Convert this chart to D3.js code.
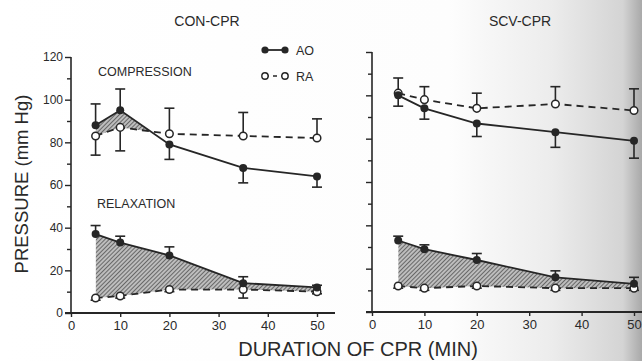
<!DOCTYPE html>
<html>
<head>
<meta charset="utf-8">
<script src="https://cdn.jsdelivr.net/npm/d3@7"></script>
<style>
  body { margin: 0; background: #fff; }
  svg text { font-family: "Liberation Sans", Arial, sans-serif; fill: #2a2a2a; }
</style>
</head>
<body>
<div id="chart"></div>
<script>
// minutes of CPR at which pressures were sampled
const minutes = [5, 10, 20, 35, 50];
const xTicks = [0, 10, 20, 30, 40, 50];
const yTicks = [0, 20, 40, 60, 80, 100, 120];

// CON-CPR
const conAoComp = [88, 95, 79, 68, 64];
const conAoCompErr = [10, 10, 7, 7, 5];
const conRaComp = [83, 87, 84, 83, 82];
const conRaCompErr = [9, 11, 12, 11, 9];
const conAoRelax = [37, 33, 27, 14, 12];
const conAoRelaxErr = [4, 3, 4, 3, 1];
const conRaRelax = [7, 8, 11, 11, 10];
const conRaRelaxErr = [1, 1, 1, 4, 1];

// SCV-CPR
const scvAoComp = [100, 94, 87, 83, 79];
const scvAoCompErr = [5, 5, 6, 7, 8];
const scvRaComp = [101, 98, 94, 96, 93];
const scvRaCompErr = [7, 6, 7, 8, 10];
const scvAoRelax = [33, 29, 24, 16, 13];
const scvAoRelaxErr = [2, 2, 3, 3, 3];
const scvRaRelax = [12, 11, 12, 11, 11];
const scvRaRelaxErr = [1, 1, 1, 1, 1];

const width = 642, height = 361;
const ink = "#262626";

const svg = d3.select("#chart").append("svg")
  .attr("width", width)
  .attr("height", height);

const defs = svg.append("defs");

// scanned page shading toward the right edge
const grad = defs.append("linearGradient").attr("id", "shade")
  .attr("x1", "0%").attr("x2", "100%").attr("y1", "0%").attr("y2", "0%");
grad.append("stop").attr("offset", "0%").attr("stop-color", "#ffffff");
grad.append("stop").attr("offset", "70%").attr("stop-color", "#fdfdfd");
grad.append("stop").attr("offset", "86%").attr("stop-color", "#ececec");
grad.append("stop").attr("offset", "97%").attr("stop-color", "#d4d4d4");
grad.append("stop").attr("offset", "100%").attr("stop-color", "#a9a9a9");
svg.append("rect").attr("width", width).attr("height", height).attr("fill", "url(#shade)");

// hatching
const hatch = defs.append("pattern").attr("id", "hatch")
  .attr("patternUnits", "userSpaceOnUse")
  .attr("width", 3).attr("height", 3)
  .attr("patternTransform", "rotate(45)");
hatch.append("rect").attr("width", 3).attr("height", 3).attr("fill", "#bdbdbd");
hatch.append("line").attr("x1", 0).attr("y1", 0).attr("x2", 0).attr("y2", 3)
  .attr("stroke", "#3a3a3a").attr("stroke-width", 1.3);

const panels = [
  {
    id: "con", title: "CON-CPR", titleX: 207, xRange: [71, 317], yRange: [313, 57],
    axisEnd: 335, yLabels: true,
    pairs: [
      { ao: conAoComp, aoErr: conAoCompErr, ra: conRaComp, raErr: conRaCompErr },
      { ao: conAoRelax, aoErr: conAoRelaxErr, ra: conRaRelax, raErr: conRaRelaxErr }
    ]
  },
  {
    id: "scv", title: "SCV-CPR", titleX: 520, xRange: [372, 634], yRange: [312, 52],
    axisEnd: 650, yLabels: false,
    pairs: [
      { ao: scvAoComp, aoErr: scvAoCompErr, ra: scvRaComp, raErr: scvRaCompErr },
      { ao: scvAoRelax, aoErr: scvAoRelaxErr, ra: scvRaRelax, raErr: scvRaRelaxErr }
    ]
  }
];

panels.forEach(p => {
  const x = d3.scaleLinear().domain([0, 50]).range(p.xRange);
  const y = d3.scaleLinear().domain([0, 120]).range(p.yRange);
  const g = svg.append("g");

  // axes
  const yAxis = g.append("g")
    .attr("transform", `translate(${p.xRange[0]},0)`)
    .call(d3.axisLeft(y).tickValues(d3.range(0, 121, 10)).tickSize(4)
      .tickFormat(d => (p.yLabels && yTicks.includes(d)) ? d : ""));
  yAxis.select(".domain").attr("stroke", ink).attr("stroke-width", 1.6).attr("d", `M0,${p.yRange[1]}V${p.yRange[0]}`);
  yAxis.selectAll(".tick line").attr("stroke", ink).attr("stroke-width", 1.4)
    .attr("x2", d => yTicks.includes(d) ? -6 : -4);
  yAxis.selectAll(".tick text").attr("font-size", 12).attr("x", -8);

  const xAxis = g.append("g")
    .attr("transform", `translate(0,${p.yRange[0]})`)
    .call(d3.axisBottom(x).tickValues(xTicks).tickSize(4));
  xAxis.select(".domain").attr("stroke", ink).attr("stroke-width", 1.8)
    .attr("d", `M${p.xRange[0] - 6},0H${p.axisEnd}`);
  xAxis.selectAll(".tick line").attr("stroke", ink).attr("stroke-width", 1.4);
  xAxis.selectAll(".tick text").attr("font-size", 13).attr("y", 8);

  g.append("text").attr("x", p.titleX).attr("y", 26).attr("text-anchor", "middle")
    .attr("font-size", 14).text(p.title);

  p.pairs.forEach((pair, k) => {
    const aoPts = minutes.map((m, i) => ({ m, v: pair.ao[i], e: pair.aoErr[i], other: pair.ra[i] }));
    const raPts = minutes.map((m, i) => ({ m, v: pair.ra[i], e: pair.raErr[i], other: pair.ao[i] }));

    // hatched region where AO lies above RA
    const clipId = `clip-${p.id}-${k}`;
    defs.append("clipPath").attr("id", clipId).append("path")
      .attr("d", d3.area().x(d => x(d.m)).y0(0).y1(d => y(d.v))(raPts));
    g.append("path")
      .attr("d", d3.area().x(d => x(d.m)).y0(y(0)).y1(d => y(d.v))(aoPts))
      .attr("fill", "url(#hatch)")
      .attr("clip-path", `url(#${clipId})`);

    const line = d3.line().x(d => x(d.m)).y(d => y(d.v));
    g.append("path").attr("d", line(raPts)).attr("fill", "none")
      .attr("stroke", ink).attr("stroke-width", 1.8).attr("stroke-dasharray", "7,5");
    g.append("path").attr("d", line(aoPts)).attr("fill", "none")
      .attr("stroke", ink).attr("stroke-width", 1.8);

    // error bars point away from the other series
    [aoPts, raPts].forEach(pts => {
      pts.forEach(d => {
        const dir = d.v >= d.other ? 1 : -1;
        const end = y(d.v + dir * d.e);
        g.append("line").attr("x1", x(d.m)).attr("x2", x(d.m))
          .attr("y1", y(d.v)).attr("y2", end)
          .attr("stroke", ink).attr("stroke-width", 1.6);
        g.append("line").attr("x1", x(d.m) - 5).attr("x2", x(d.m) + 5)
          .attr("y1", end).attr("y2", end)
          .attr("stroke", ink).attr("stroke-width", 1.6);
      });
    });

    g.selectAll(null).data(raPts).enter().append("circle")
      .attr("cx", d => x(d.m)).attr("cy", d => y(d.v)).attr("r", 3.8)
      .attr("fill", "#fff").attr("stroke", ink).attr("stroke-width", 1.5);
    g.selectAll(null).data(aoPts).enter().append("circle")
      .attr("cx", d => x(d.m)).attr("cy", d => y(d.v)).attr("r", 4)
      .attr("fill", ink);
  });
});

// panel annotations
svg.append("text").attr("x", 98).attr("y", 76).attr("font-size", 12.5).text("COMPRESSION");
svg.append("text").attr("x", 97).attr("y", 208).attr("font-size", 12.5).text("RELAXATION");

// legend
const legend = svg.append("g");
legend.append("line").attr("x1", 265).attr("x2", 285).attr("y1", 50).attr("y2", 50)
  .attr("stroke", ink).attr("stroke-width", 1.8);
legend.selectAll(null).data([265, 285]).enter().append("circle")
  .attr("cx", d => d).attr("cy", 50).attr("r", 3.6).attr("fill", ink);
legend.append("text").attr("x", 296).attr("y", 55).attr("font-size", 12.5).text("AO");
legend.append("line").attr("x1", 265).attr("x2", 285).attr("y1", 76).attr("y2", 76)
  .attr("stroke", ink).attr("stroke-width", 1.6).attr("stroke-dasharray", "4,4");
legend.selectAll(null).data([265, 285]).enter().append("circle")
  .attr("cx", d => d).attr("cy", 76).attr("r", 3.2)
  .attr("fill", "#fff").attr("stroke", ink).attr("stroke-width", 1.4);
legend.append("text").attr("x", 296).attr("y", 81).attr("font-size", 12.5).text("RA");

// axis titles
svg.append("text").attr("transform", "translate(28,184) rotate(-90)")
  .attr("text-anchor", "middle").attr("font-size", 18.5).text("PRESSURE (mm Hg)");
svg.append("text").attr("x", 358).attr("y", 356).attr("text-anchor", "middle")
  .attr("font-size", 20).text("DURATION OF CPR (MIN)");
</script>
</body>
</html>
